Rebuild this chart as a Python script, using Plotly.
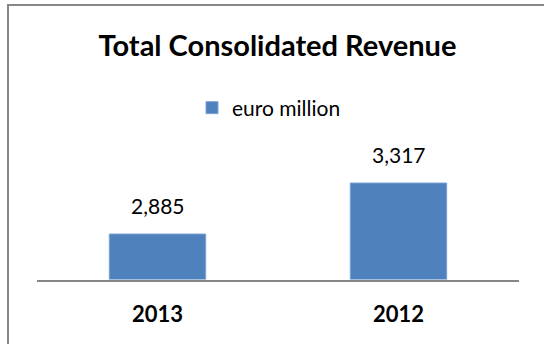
import plotly.graph_objects as go

# Revenue by year (euro million)
years = ["2013", "2012"]
revenue = [2885, 3317]
series_name = "euro million"
chart_title = "Total Consolidated Revenue"

W, H = 544, 344
# plot area in pixels: left, right, top, bottom
PL, PR, PT, PB = 37, 519, 161.4, 279.5

BAR = "#4F81BD"
FONT = "Lato, Calibri, sans-serif"
FRAME = "#878787"

fig = go.Figure()
fig.add_trace(go.Bar(
    x=years,
    y=revenue,
    name=series_name,
    marker=dict(color=BAR, line=dict(color="#7aa3d4", width=1)),
    width=0.4,
    showlegend=True,
))

# value labels above each bar (category axis positions are indices)
for i, v in enumerate(revenue):
    fig.add_annotation(
        x=i, y=v, xref="x", yref="y", text=f"{v:,}", showarrow=False,
        yanchor="bottom", yshift=14,
        font=dict(family=FONT, size=21, color="#000000"),
    )

# chart frame: top edge and left edge (paper spans the whole figure)
fig.add_shape(
    type="line", xref="paper", yref="paper", layer="above",
    x0=7 / W, x1=1.0, y0=1 - 5 / H, y1=1 - 5 / H,
    line=dict(color=FRAME, width=2),
)
fig.add_shape(
    type="line", xref="paper", yref="paper", layer="above",
    x0=8 / W, x1=8 / W, y0=1 - 4 / H, y1=0.0,
    line=dict(color=FRAME, width=2),
)

fig.update_layout(
    width=W, height=H,
    margin=dict(l=0, r=0, t=0, b=0, pad=0),
    paper_bgcolor="#ffffff",
    plot_bgcolor="#ffffff",
    title=dict(
        text=f"<b>{chart_title}</b>",
        x=277.5 / W, xanchor="center",
        y=1 - 46 / H, yanchor="middle",
        font=dict(family=FONT, size=29, color="#000000"),
    ),
    legend=dict(
        orientation="h",
        xref="paper", yref="paper",
        x=0.5 - 3 / W, xanchor="center",
        y=1 - 108 / H, yanchor="middle",
        font=dict(family=FONT, size=21, color="#000000"),
        bgcolor="rgba(0,0,0,0)",
    ),
    showlegend=True,
    bargap=0.6,
    xaxis=dict(
        type="category",
        domain=[PL / W, PR / W],
        range=[-0.5, 1.5],
        automargin=False,
        showline=True, linecolor="#868686", linewidth=2,
        showgrid=False, zeroline=False,
        ticks="", ticklabelstandoff=14,
        tickfont=dict(family=FONT, size=22, color="#000000", weight="bold"),
    ),
    yaxis=dict(
        domain=[(H - PB) / H, (H - PT) / H],
        range=[2500, 3500],
        automargin=False,
        showticklabels=False, showline=False, ticks="",
        showgrid=False, zeroline=False,
    ),
)

fig.write_html("out.html", config={"displayModeBar": False})
